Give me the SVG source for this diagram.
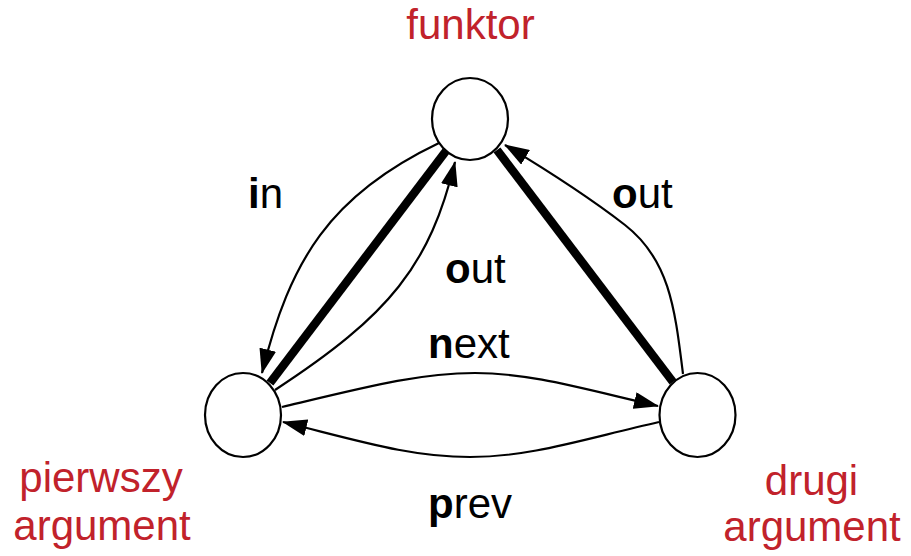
<svg xmlns="http://www.w3.org/2000/svg" width="911" height="556" viewBox="0 0 911 556">
<style>
.node{fill:#fff;stroke:#000;stroke-width:2.2}
.thick{fill:none;stroke:#000;stroke-width:8.5;stroke-linecap:butt}
.edge{fill:none;stroke:#000;stroke-width:2.2}
.lbl{font-family:"Liberation Sans",Arial,Helvetica,sans-serif;font-size:42px;fill:#000}
.b{font-weight:bold}
.name{font-family:"Liberation Sans",Arial,Helvetica,sans-serif;font-size:42px;fill:#c1222b;text-anchor:middle}
</style>
<defs>
<marker id="arr" markerUnits="userSpaceOnUse" viewBox="0 0 25 17" markerWidth="25" markerHeight="17" refX="24" refY="8.5" orient="auto">
<path d="M0,0 L25,8.5 L0,17 z" fill="#000"/>
</marker>
</defs>
<g id="connectors">
<line class="thick" x1="446" y1="151" x2="270" y2="383"/>
<line class="thick" x1="497" y1="150" x2="673" y2="382"/>
<path class="edge" d="M439,143 C330,195 290,260 262,373" marker-end="url(#arr)"/>
<path class="edge" d="M275,390 C390,315 430,265 455,162" marker-end="url(#arr)"/>
<path class="edge" d="M683,374 C675,310 670,260 625,225 C590,198 550,172 505,145" marker-end="url(#arr)"/>
<path class="edge" d="M282,407 C370,386 420,373 475,373 C530,373 580,388 658,406" marker-end="url(#arr)"/>
<path class="edge" d="M659,422 C580,440 530,457 470,457 C410,457 360,441 283,422" marker-end="url(#arr)"/>
</g>
<g id="node-funktor">
<ellipse class="node" cx="470" cy="119" rx="38" ry="41"/>
<text class="name" x="470.5" y="39">funktor</text>
</g>
<g id="node-pierwszy">
<ellipse class="node" cx="243" cy="415" rx="38" ry="42"/>
<text class="name" x="101" y="492">pierwszy</text>
<text class="name" x="102" y="540">argument</text>
</g>
<g id="node-drugi">
<ellipse class="node" cx="697.5" cy="415" rx="38" ry="42"/>
<text class="name" x="811.5" y="495">drugi</text>
<text class="name" x="812" y="541">argument</text>
</g>
<g id="labels">
<text class="lbl" x="248" y="208"><tspan class="b">i</tspan>n</text>
<text class="lbl" x="445" y="283"><tspan class="b">o</tspan>ut</text>
<text class="lbl" x="428" y="358"><tspan class="b">n</tspan>ext</text>
<text class="lbl" x="612" y="208"><tspan class="b">o</tspan>ut</text>
<text class="lbl" x="428" y="518"><tspan class="b">p</tspan>rev</text>
</g>
</svg>
